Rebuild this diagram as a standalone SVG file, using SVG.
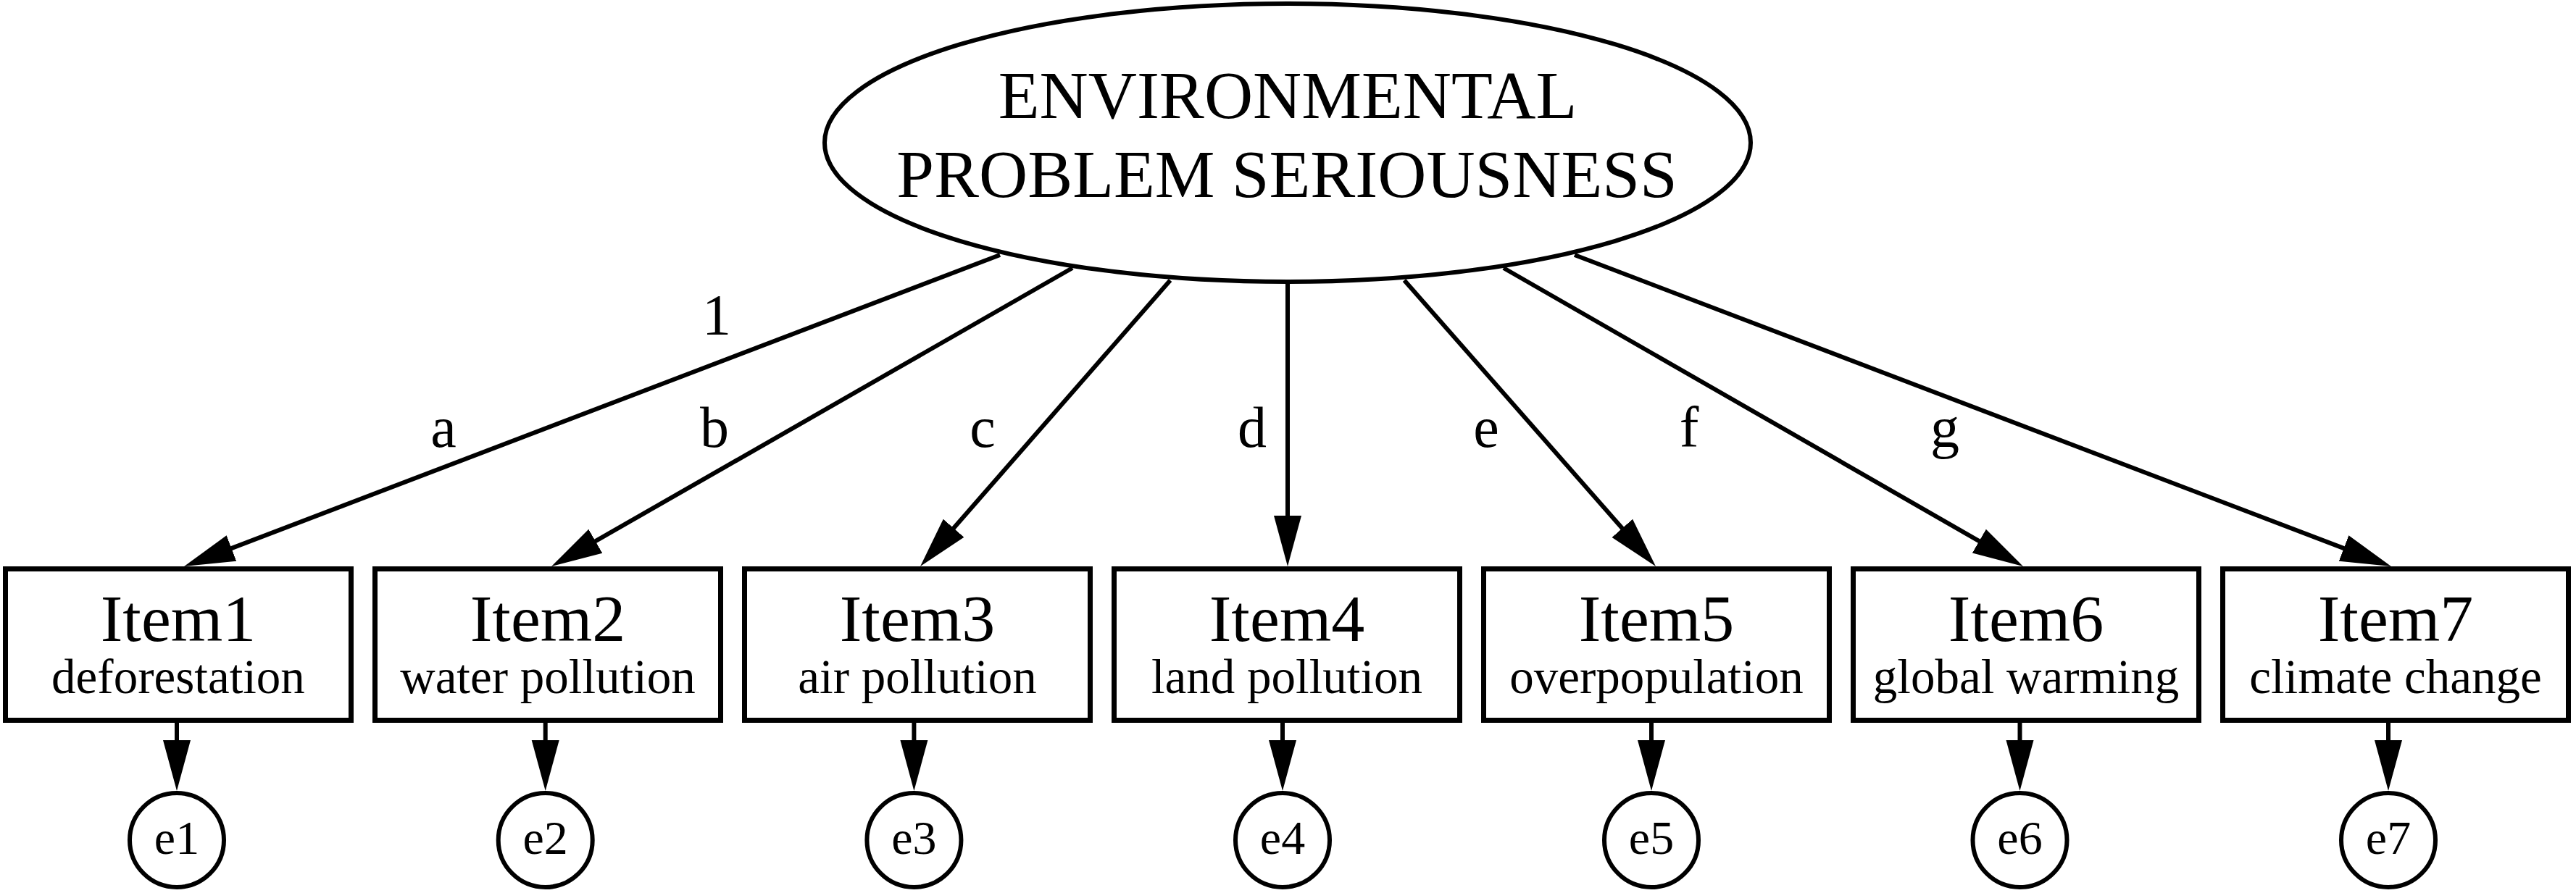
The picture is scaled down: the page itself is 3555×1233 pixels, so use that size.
<svg xmlns="http://www.w3.org/2000/svg" width="3555" height="1233" viewBox="0 0 3555 1233">
<defs>
<marker id="arr" markerUnits="userSpaceOnUse" markerWidth="80" markerHeight="50" viewBox="0 -25 80 50" refX="10" refY="0" orient="auto">
<path d="M0,-19 L70,0 L0,19 Z" fill="#000"/>
</marker>
</defs>
<style>
text{font-family:"Liberation Serif","Times New Roman",serif;fill:#000;text-anchor:middle}
.lat{fill:#fff;stroke:#000;stroke-width:6}
.box{fill:#fff;stroke:#000;stroke-width:7}
.err{fill:#fff;stroke:#000;stroke-width:6}
.big{font-size:93px}
.it{font-size:92px}
.sub{font-size:67px}
.e{font-size:66px}
.lbl{font-size:80px}
.c{stroke:#000;stroke-width:6;fill:none;marker-end:url(#arr)}
</style>
<rect width="3555" height="1233" fill="#fff"/>
<g id="connectors">
<line class="c" x1="1380" y1="352" x2="310.1" y2="760.6"/>
<line class="c" x1="1480" y1="370" x2="813.1" y2="752.2"/>
<line class="c" x1="1615" y1="387" x2="1309.5" y2="736.8"/>
<line class="c" x1="1777" y1="392" x2="1777" y2="722"/>
<line class="c" x1="1938" y1="387" x2="2245.4" y2="736.9"/>
<line class="c" x1="2075" y1="370" x2="2740" y2="752.1"/>
<line class="c" x1="2173" y1="352" x2="3243.9" y2="760.6"/>
<line class="c" x1="244" y1="998" x2="244" y2="1032"/>
<line class="c" x1="752.7" y1="998" x2="752.7" y2="1032"/>
<line class="c" x1="1261.4" y1="998" x2="1261.4" y2="1032"/>
<line class="c" x1="1770" y1="998" x2="1770" y2="1032"/>
<line class="c" x1="2279" y1="998" x2="2279" y2="1032"/>
<line class="c" x1="2787.5" y1="998" x2="2787.5" y2="1032"/>
<line class="c" x1="3296" y1="998" x2="3296" y2="1032"/>
<text class="lbl" x="989" y="462">1</text>
<text class="lbl" x="612" y="617">a</text>
<text class="lbl" x="986" y="617">b</text>
<text class="lbl" x="1356" y="617">c</text>
<text class="lbl" x="1728" y="617">d</text>
<text class="lbl" x="2051" y="617">e</text>
<text class="lbl" x="2331" y="617">f</text>
<text class="lbl" x="2684" y="617">g</text>
</g>
<g id="latent">
<ellipse class="lat" cx="1777" cy="197" rx="639" ry="192"/>
<text class="big" x="1777" y="163">ENVIRONMENTAL</text>
<text class="big" x="1776" y="272">PROBLEM SERIOUSNESS</text>
</g>
<g id="item1"><rect class="box" x="7.5" y="785.5" width="477" height="209"/><text class="it" x="246" y="885">Item1</text><text class="sub" x="246" y="957">deforestation</text></g>
<g id="item2"><rect class="box" x="517.5" y="785.5" width="477" height="209"/><text class="it" x="756" y="885">Item2</text><text class="sub" x="756" y="957">water pollution</text></g>
<g id="item3"><rect class="box" x="1027.5" y="785.5" width="477" height="209"/><text class="it" x="1266" y="885">Item3</text><text class="sub" x="1266" y="957">air pollution</text></g>
<g id="item4"><rect class="box" x="1537.5" y="785.5" width="477" height="209"/><text class="it" x="1776" y="885">Item4</text><text class="sub" x="1776" y="957">land pollution</text></g>
<g id="item5"><rect class="box" x="2047.5" y="785.5" width="477" height="209"/><text class="it" x="2286" y="885">Item5</text><text class="sub" x="2286" y="957">overpopulation</text></g>
<g id="item6"><rect class="box" x="2557.5" y="785.5" width="477" height="209"/><text class="it" x="2796" y="885">Item6</text><text class="sub" x="2796" y="957">global warming</text></g>
<g id="item7"><rect class="box" x="3067.5" y="785.5" width="477" height="209"/><text class="it" x="3306" y="885">Item7</text><text class="sub" x="3306" y="957">climate change</text></g>
<g id="e1"><circle class="err" cx="244" cy="1160" r="65"/><text class="e" x="244" y="1179">e1</text></g>
<g id="e2"><circle class="err" cx="752.7" cy="1160" r="65"/><text class="e" x="752.7" y="1179">e2</text></g>
<g id="e3"><circle class="err" cx="1261.4" cy="1160" r="65"/><text class="e" x="1261.4" y="1179">e3</text></g>
<g id="e4"><circle class="err" cx="1770" cy="1160" r="65"/><text class="e" x="1770" y="1179">e4</text></g>
<g id="e5"><circle class="err" cx="2279" cy="1160" r="65"/><text class="e" x="2279" y="1179">e5</text></g>
<g id="e6"><circle class="err" cx="2787.5" cy="1160" r="65"/><text class="e" x="2787.5" y="1179">e6</text></g>
<g id="e7"><circle class="err" cx="3296" cy="1160" r="65"/><text class="e" x="3296" y="1179">e7</text></g>
</svg>
